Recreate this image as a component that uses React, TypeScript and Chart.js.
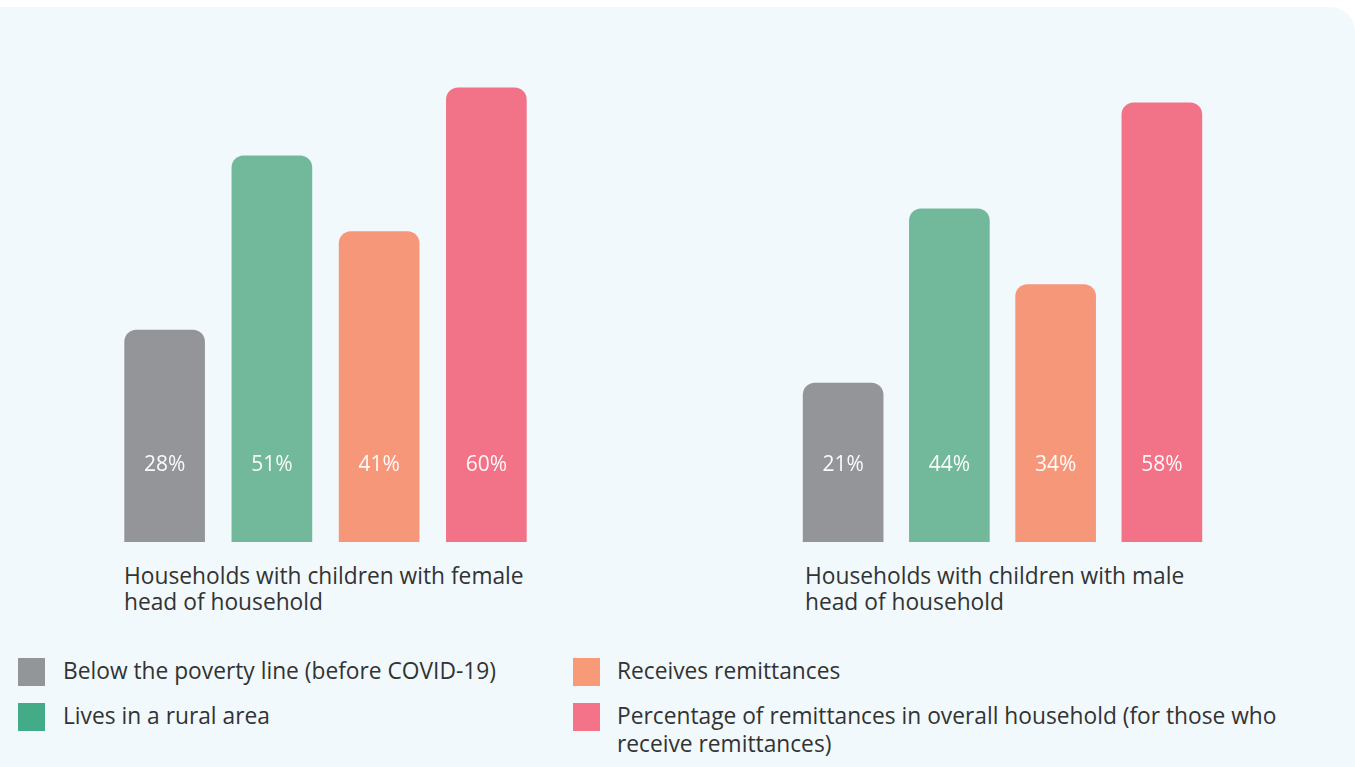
import React, { useEffect, useRef } from "react";
import { Chart, registerables } from "chart.js";

Chart.register(...registerables);

const seriesNames = [
  "Below the poverty line (before COVID-19)",
  "Lives in a rural area",
  "Receives remittances",
  "Percentage of remittances in overall household (for those who receive remittances)",
];
const groupNames = [
  "Households with children with female head of household",
  "Households with children with male head of household",
];
const femaleValues = [28, 51, 41, 60];
const maleValues = [21, 44, 34, 58];
const barColors = ["#949599", "#72b99b", "#f7977a", "#f27287"];
const legendColors = ["#949599", "#43ab88", "#f89a78", "#f47389"];

const FONT = "'Open Sans', sans-serif";

const valueLabelPlugin = {
  id: "valueLabels",
  afterDatasetsDraw(chart: any) {
    const { ctx, chartArea } = chart;
    const meta = chart.getDatasetMeta(0);
    const data = chart.data.datasets[0].data as number[];
    ctx.save();
    ctx.fillStyle = "rgba(255,255,255,0.95)";
    ctx.font = `21px ${FONT}`;
    ctx.textAlign = "center";
    ctx.textBaseline = "middle";
    meta.data.forEach((bar: any, i: number) => {
      ctx.fillText(`${data[i]}%`, bar.x, chartArea.bottom - 77);
    });
    ctx.restore();
  },
};

function BarGroup({ values, left, top, width, height }: any) {
  const ref = useRef<HTMLCanvasElement>(null);
  useEffect(() => {
    if (!ref.current) return;
    const chart = new Chart(ref.current, {
      type: "bar",
      data: {
        labels: seriesNames,
        datasets: [
          {
            data: values,
            backgroundColor: barColors,
            borderRadius: 12,
            borderSkipped: "bottom",
            barThickness: 80,
          },
        ],
      },
      options: {
        animation: false,
        responsive: false,
        maintainAspectRatio: false,
        layout: { padding: 0 },
        plugins: { legend: { display: false }, tooltip: { enabled: false } },
        scales: {
          x: { display: false, grid: { display: false } },
          y: { display: false, min: 0, max: 70, grid: { display: false } },
        },
      },
      plugins: [valueLabelPlugin],
    });
    return () => chart.destroy();
  }, [values]);
  return (
    <canvas
      ref={ref}
      width={width}
      height={height}
      style={{ position: "absolute", left, top, width, height }}
    />
  );
}

export default function App() {
  const textStyle: React.CSSProperties = {
    position: "absolute",
    fontFamily: FONT,
    fontSize: 22.75,
    lineHeight: "26px",
    color: "#333333",
    whiteSpace: "normal",
  };
  return (
    <div
      style={{
        position: "absolute",
        left: 0,
        top: 0,
        width: 1355,
        height: 767,
        overflow: "hidden",
        background: "#ffffff",
      }}
    >
      <div
        style={{
          position: "absolute",
          left: -30,
          top: 7,
          width: 1385,
          height: 820,
          borderRadius: 25,
          background: "#f1f9fc",
        }}
      />
      <BarGroup values={femaleValues} left={111} top={12} width={429} height={530} />
      <BarGroup values={maleValues} left={790} top={12} width={425} height={530} />
      <div style={{ ...textStyle, left: 124, top: 563, width: 420 }}>{groupNames[0]}</div>
      <div style={{ ...textStyle, left: 805, top: 563, width: 400 }}>{groupNames[1]}</div>
      {seriesNames.map((name, i) => {
        const col = i < 2 ? 0 : 1;
        const row = i % 2;
        const sqLeft = col === 0 ? 18 : 573;
        const txtLeft = col === 0 ? 63 : 617;
        const sqTop = row === 0 ? 658 : 703;
        return (
          <React.Fragment key={name}>
            <div
              style={{
                position: "absolute",
                left: sqLeft,
                top: sqTop,
                width: 27,
                height: 28,
                background: legendColors[i],
              }}
            />
            <div
              style={{
                ...textStyle,
                left: txtLeft,
                top: sqTop - 1,
                width: col === 0 ? 480 : 680,
                lineHeight: "28px",
              }}
            >
              {name}
            </div>
          </React.Fragment>
        );
      })}
    </div>
  );
}
